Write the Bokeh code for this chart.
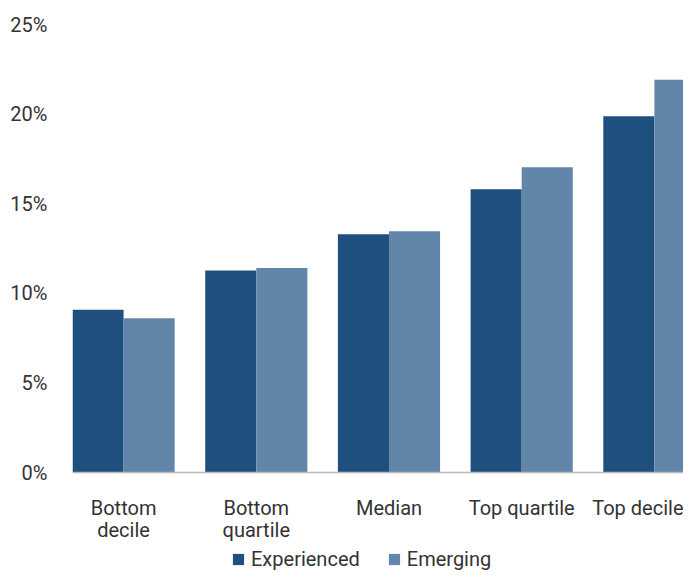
from bokeh.plotting import figure
from bokeh.models import Range1d, ColumnDataSource, Legend, LegendItem, FixedTicker, LinearAxis
from bokeh.transform import dodge
from bokeh.embed import file_html
from bokeh.resources import INLINE

categories = ["Bottom\ndecile", "Bottom\nquartile", "Median", "Top quartile", "Top decile"]
experienced = [9.08, 11.27, 13.29, 15.81, 19.88]
emerging = [8.61, 11.41, 13.46, 17.04, 21.92]
y_ticks = [0, 5, 10, 15, 20, 25]
y_tick_labels = ["0%", "5%", "10%", "15%", "20%", "25%"]
series_names = ["Experienced", "Emerging"]

DARK = "#1f4f7e"
LIGHT = "#6286a9"
TEXT = "#333333"
FONT = "Roboto"

W, H = 683, 570
LEFT, TOP = 72, 24
ZERO_PX = 472          # vertical pixel of the 0% baseline
PX_PER_UNIT = (ZERO_PX - TOP) / 25.0
below_units = (H - ZERO_PX) / PX_PER_UNIT
GROUP_PX = 132.7
x_end = -0.385 + (W - LEFT) / GROUP_PX

xs = list(range(len(categories)))
src = ColumnDataSource(dict(x=xs, exp=experienced, emg=emerging))

p = figure(width=W, height=H, output_backend="svg", toolbar_location=None,
           x_axis_location=None,
           x_range=Range1d(-0.385, x_end), y_range=Range1d(-below_units, 25),
           min_border_left=LEFT, min_border_top=TOP, min_border_right=0, min_border_bottom=0)
p.outline_line_color = None
p.xgrid.grid_line_color = None
p.ygrid.grid_line_color = None
p.background_fill_color = "white"
p.border_fill_color = "white"

bw = 0.385
r1 = p.vbar(x=dodge("x", -bw / 2, range=p.x_range), width=bw, top="exp", bottom=0, source=src,
            fill_color=DARK, line_color=None)
r2 = p.vbar(x=dodge("x", bw / 2, range=p.x_range), width=bw, top="emg", bottom=0, source=src,
            fill_color=LIGHT, line_color=None)

xa = LinearAxis(fixed_location=0)
xa.ticker = FixedTicker(ticks=xs)
xa.major_label_overrides = {i: c for i, c in zip(xs, categories)}
xa.major_tick_line_color = None
xa.major_tick_out = 0
xa.major_tick_in = 0
xa.minor_tick_line_color = None
xa.axis_line_color = "#bfb8b0"
xa.axis_line_width = 1.5
xa.major_label_text_font = FONT
xa.major_label_text_font_size = "20px"
xa.major_label_text_line_height = 0.92
xa.major_label_text_color = TEXT
xa.major_label_standoff = 23
p.add_layout(xa, "below")

ya = p.yaxis[0]
ya.ticker = FixedTicker(ticks=y_ticks)
ya.major_label_overrides = {t: l for t, l in zip(y_ticks, y_tick_labels)}
ya.major_tick_line_color = None
ya.major_tick_out = 0
ya.major_tick_in = 0
ya.minor_tick_line_color = None
ya.axis_line_color = None
ya.major_label_text_font = FONT
ya.major_label_text_font_size = "20px"
ya.major_label_text_color = TEXT
ya.major_label_standoff = 25

legend = Legend(items=[LegendItem(label=series_names[0], renderers=[r1]),
                       LegendItem(label=series_names[1], renderers=[r2])],
                location=(159, -1), orientation="horizontal",
                margin=0, padding=0, spacing=27, label_standoff=6,
                glyph_width=14, glyph_height=14, label_height=20,
                border_line_color=None, background_fill_alpha=0,
                label_text_font=FONT, label_text_font_size="20px", label_text_color=TEXT)
p.add_layout(legend, "center")

open("out.html", "w").write(file_html(p, INLINE))
